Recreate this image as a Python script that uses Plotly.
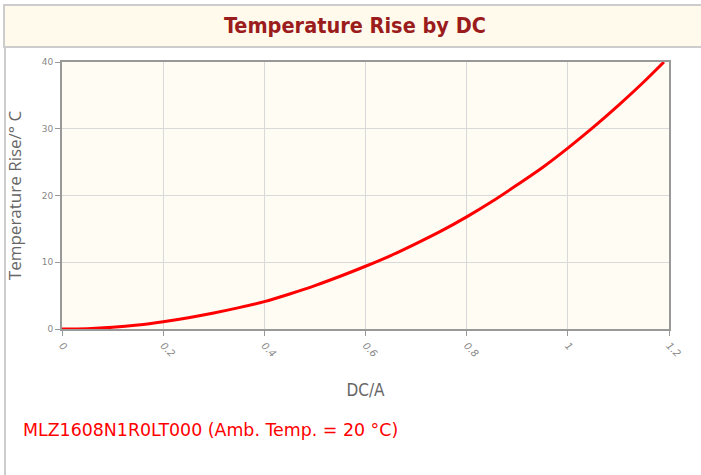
import plotly.graph_objects as go

# Data
dc_current = [0, 0.05, 0.1, 0.15, 0.2, 0.25, 0.3, 0.35, 0.4, 0.45, 0.5, 0.55, 0.6,
              0.65, 0.7, 0.75, 0.8, 0.85, 0.9, 0.95, 1.0, 1.05, 1.1, 1.15, 1.19]
temp_rise = [0, 0.05, 0.25, 0.6, 1.1, 1.7, 2.4, 3.2, 4.1, 5.25, 6.5, 7.9, 9.4,
             11.0, 12.8, 14.7, 16.8, 19.1, 21.6, 24.2, 27.1, 30.2, 33.5, 37.0, 40.0]

x_ticks = [0, 0.2, 0.4, 0.6, 0.8, 1.0, 1.2]
x_tick_labels = ["0", "0.2", "0.4", "0.6", "0.8", "1", "1.2"]
y_ticks = [0, 10, 20, 30, 40]

title_text = "Temperature Rise by DC"
x_title = "DC/A"
y_title = "Temperature Rise/° C"
note_text = "MLZ1608N1R0LT000 (Amb. Temp. = 20 °C)"

W, H = 701, 475
L, R, T, B = 62, 32, 62, 146
pw, ph = W - L - R, H - T - B


def px(x):
    return (x - L) / pw


def py(y):
    return (H - B - y) / ph


fig = go.Figure()
fig.add_trace(go.Scatter(
    x=dc_current, y=temp_rise, mode="lines",
    line=dict(color="#ff0000", width=3, shape="spline", smoothing=0.8),
    hoverinfo="x+y", showlegend=False,
))

grid = "#d9d9d9"
fig.update_layout(
    width=W, height=H,
    margin=dict(l=L, r=R, t=T, b=B, autoexpand=False),
    paper_bgcolor="#ffffff",
    plot_bgcolor="#fffcf4",
    showlegend=False,
    xaxis=dict(
        range=[0, 1.2], tickvals=x_ticks, ticktext=x_tick_labels,
        tickangle=45, ticks="outside", ticklen=5, tickcolor="#999999",
        tickfont=dict(family="DejaVu Sans", size=10, color="#888888", style="italic"),
        showgrid=True, gridcolor=grid, gridwidth=1,
        showline=True, linecolor="#999999", linewidth=2, mirror=True,
        zeroline=False, automargin=False,
        title=dict(text=x_title,
                   font=dict(family="DejaVu Sans Condensed, DejaVu Sans", size=17, color="#666666"),
                   standoff=26),
    ),
    yaxis=dict(
        range=[0, 40], tickvals=y_ticks,
        ticks="outside", ticklen=5, tickcolor="#999999",
        tickfont=dict(family="DejaVu Sans", size=9, color="#888888"),
        showgrid=True, gridcolor=grid, gridwidth=1,
        showline=True, linecolor="#999999", linewidth=2, mirror=True,
        zeroline=False, automargin=False,
        title=dict(text=y_title, font=dict(family="Open Sans", size=17, color="#666666"),
                   standoff=16),
    ),
    shapes=[
        dict(type="line", xref="paper", yref="paper",
             x0=px(5), x1=px(5), y0=py(47), y1=py(H),
             line=dict(color="#cccccc", width=2), layer="below"),
        dict(type="rect", xref="paper", yref="paper",
             x0=px(4), x1=px(W + 2), y0=py(47), y1=py(5),
             fillcolor="#fffaeb", line=dict(color="#cccccc", width=2), layer="below"),
    ],
    annotations=[
        dict(text="<b>" + title_text + "</b>", xref="paper", yref="paper",
             x=px(355), y=py(25), xanchor="center", yanchor="middle", showarrow=False,
             font=dict(family="DejaVu Sans Condensed, DejaVu Sans", size=21.5, color="#9b1c1c")),
        dict(text=note_text, xref="paper", yref="paper",
             x=px(21), y=py(430), xanchor="left", yanchor="middle", showarrow=False,
             font=dict(family="DejaVu Sans", size=17.4, color="#ff0000")),
    ],
)

fig.write_html(
    "out.html",
    config={"displayModeBar": False},
    post_script="document.body.style.margin='0';document.body.style.overflow='hidden';",
)
